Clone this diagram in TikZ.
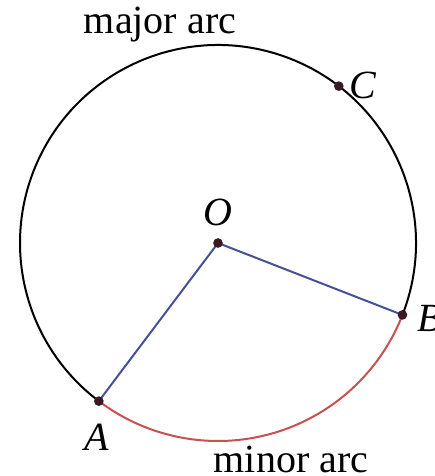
\documentclass[tikz,border=0pt]{standalone}
\usepackage{fontspec}
\setmainfont{Liberation Serif}
\usetikzlibrary{calc}
\definecolor{radiusblue}{RGB}{70,80,150}
\definecolor{arcred}{RGB}{200,80,80}
\definecolor{dotbrown}{RGB}{60,25,35}
\begin{document}
\begin{tikzpicture}[x=0.3pt, y=0.3pt, every node/.style={font=\fontsize{12}{14}\selectfont},
  dot/.style={circle, fill=dotbrown, inner sep=0pt, minimum size=2.9pt}]
\useasboundingbox (0,0) rectangle (435,476);
\coordinate (O) at (218,233);
\coordinate (A) at ($(O)+(233:198)$);
\coordinate (B) at ($(O)+(338.7:198)$);
\coordinate (C) at ($(O)+(52.4:198)$);
\draw[line width=0.6pt] (B) arc[start angle=-21.3, end angle=233, radius=198];
\draw[arcred, line width=0.6pt] (A) arc[start angle=233, end angle=338.7, radius=198];
\draw[radiusblue, line width=0.6pt] (A) -- (O) -- (B);
\node[dot] (dotO) at (O) {};
\node[dot] (dotA) at (A) {};
\node[dot] (dotB) at (B) {};
\node[dot] (dotC) at (C) {};
\node (labO) at (218,264) {\textit{O}};
\node (labA) at (97,39) {\textit{A}};
\node[anchor=west, inner sep=1pt] (labB) at (414,158) {\textit{B}};
\node (labC) at (363,391) {\textit{C}};
\node (major) at (160,451) {major arc};
\node (minor) at (291,17) {minor arc};
\end{tikzpicture}
\end{document}
